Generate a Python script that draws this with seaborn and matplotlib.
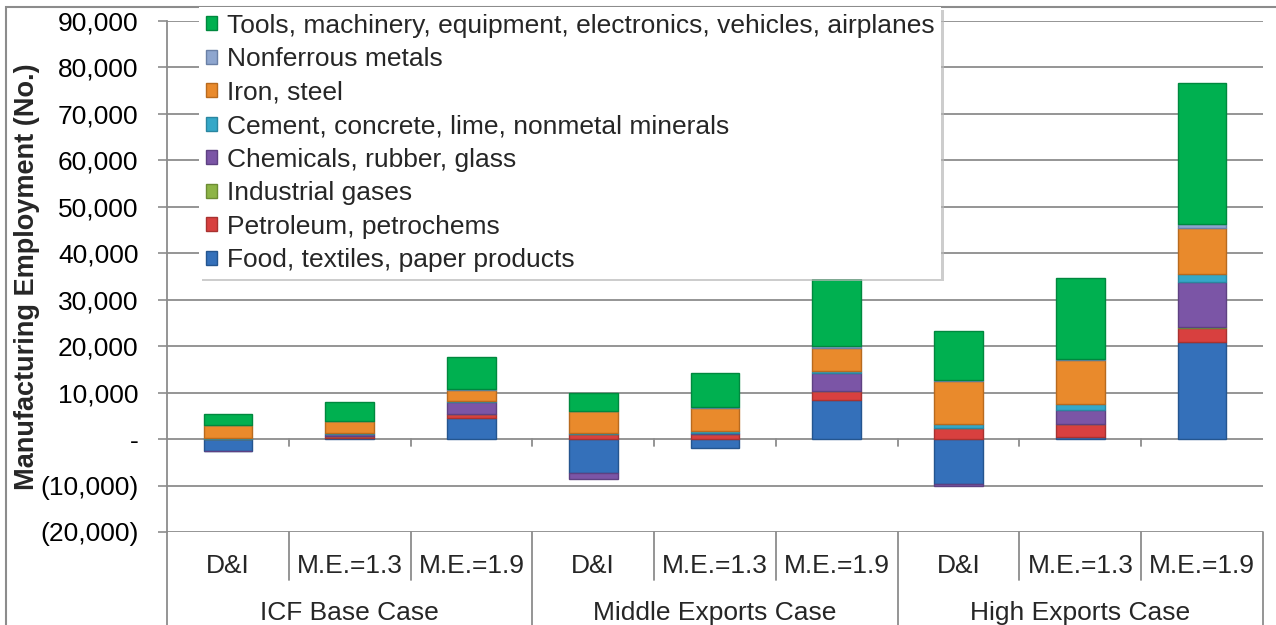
import numpy as np
import pandas as pd
import matplotlib
matplotlib.use('Agg')
from matplotlib import pyplot as plt
from matplotlib.patches import Patch, Rectangle
from matplotlib.ticker import FuncFormatter
import seaborn as sns

# ===================================================================
# Manufacturing employment by sector, per case and multiplier
# ===================================================================
groups = ['ICF Base Case', 'Middle Exports Case', 'High Exports Case']
subs = ['D&I', 'M.E.=1.3', 'M.E.=1.9']

sectors = ['Food, textiles, paper products',
           'Petroleum, petrochems',
           'Industrial gases',
           'Chemicals, rubber, glass',
           'Cement, concrete, lime, nonmetal minerals',
           'Iron, steel',
           'Nonferrous metals',
           'Tools, machinery, equipment, electronics, vehicles, airplanes']

food = [-2500, 300, 4500, -7200, -1900, 8500, -9700, 500, 21000]
petroleum = [100, 400, 800, 1100, 1200, 1800, 2300, 2700, 3000]
gases = [0, 0, 100, 0, 0, 100, 0, 100, 200]
chemicals = [-100, 500, 2500, -1400, 200, 3800, -300, 3000, 9700]
cement = [100, 100, 300, 200, 400, 500, 900, 1200, 1650]
iron = [2800, 2500, 2300, 4700, 5000, 5000, 9300, 9500, 9800]
nonferrous = [100, 100, 200, 100, 200, 300, 200, 300, 900]
tools = [2400, 4100, 6900, 3800, 7200, 14400, 10500, 17400, 30500]

colors = ['#3470BA', '#D8403F', '#8DB446', '#7B55A6',
          '#35A8C8', '#E98A2C', '#8EA6CF', '#00B050']
edges = ['#24558F', '#A83230', '#6C8C34', '#5E4182',
         '#2A86A0', '#B86A1E', '#6A80A6', '#00883E']

series = [food, petroleum, gases, chemicals, cement, iron, nonferrous, tools]

ids = [f'{g}|{s}' for g in groups for s in subs]

sns.set_theme(style='white')
plt.rcParams['font.family'] = ['Liberation Sans', 'DejaVu Sans']
FS = 19

fig = plt.figure(figsize=(12.76, 6.25), dpi=100)
ax = fig.add_axes([167 / 1276, 1 - 532 / 625, (1263 - 167) / 1276, (532 - 21) / 625])

pos_bottom = np.zeros(len(ids))
neg_bottom = np.zeros(len(ids))
for vals, c, ec in zip(series, colors, edges):
    vals = np.array(vals, dtype=float)
    bottom = np.where(vals >= 0, pos_bottom, neg_bottom)
    df = pd.DataFrame({'case': ids, 'value': vals})
    sns.barplot(data=df, x='case', y='value', order=ids, bottom=bottom,
                color=c, edgecolor=ec, linewidth=1.0, width=0.4,
                saturation=1, errorbar=None, ax=ax, zorder=3)
    pos_bottom = pos_bottom + np.where(vals >= 0, vals, 0)
    neg_bottom = neg_bottom + np.where(vals < 0, vals, 0)

ax.set_xlim(-0.5, len(ids) - 0.5)
ax.set_ylim(-20000, 90000)
ax.set_yticks(np.arange(-20000, 90001, 10000))


def acct(v, p):
    if abs(v) < 1:
        return '-'
    if v < 0:
        return f'({abs(v):,.0f})'
    return f'{v:,.0f}'


ax.yaxis.set_major_formatter(FuncFormatter(acct))
ax.tick_params(axis='y', labelsize=FS, length=6.5, width=1.2, color='#8c8c8c',
               pad=14, left=True, labelcolor='black')
ax.set_xticks([])
ax.set_xlabel('')
ax.set_ylabel('Manufacturing Employment (No.)', fontsize=19.5, fontweight='bold')
ax.yaxis.set_label_coords(-0.1159, 0.5)
ax.yaxis.grid(True, color='#8c8c8c', linewidth=1.3)
ax.set_axisbelow(True)
for side in ['top', 'right', 'bottom']:
    ax.spines[side].set_visible(False)
ax.spines['left'].set_color('#8c8c8c')
ax.spines['left'].set_linewidth(1.3)

# zero axis ticks between categories
for k in range(1, len(ids)):
    ax.plot([k - 0.5, k - 0.5], [0, -1500], color='#8c8c8c', lw=1.3, zorder=2)

# multi level category axis below the plot
tr = ax.get_xaxis_transform()
for i, s in enumerate(subs * len(groups)):
    ax.text(i, -0.066, s, transform=tr, ha='center', va='center', fontsize=FS)
for j, g in enumerate(groups):
    ax.text(j * 3 + 1, -0.158, g, transform=tr, ha='center', va='center', fontsize=FS)
for k in range(len(ids) + 1):
    x = k - 0.5
    bot = -0.2 if k % 3 == 0 else -0.094
    ax.plot([x, x], [0, bot], transform=tr, color='#8c8c8c', lw=1.3, clip_on=False)

# legend, top item first
handles = [Patch(facecolor=c, edgecolor=ec, label=l)
           for c, ec, l in zip(colors, edges, sectors)][::-1]
leg = fig.legend(handles=handles, loc='upper left', bbox_to_anchor=(199 / 1276, 1 - 7 / 625),
                 fontsize=FS, frameon=True, fancybox=False,
                 shadow={'color': '0.72', 'alpha': 0.7},
                 handlelength=0.42, handleheight=0.42, handletextpad=0.4,
                 labelspacing=0.36, borderpad=0.25, borderaxespad=0)
leg.get_frame().set_edgecolor('white')
leg.get_frame().set_linewidth(0)

# chart area border
fig.patches.append(Rectangle((6 / 1276, -0.1), 1.2, 1.1 - 7 / 625, transform=fig.transFigure,
                             fill=False, edgecolor='#8c8c8c', linewidth=1.5))

plt.savefig('out.png', dpi=100)
